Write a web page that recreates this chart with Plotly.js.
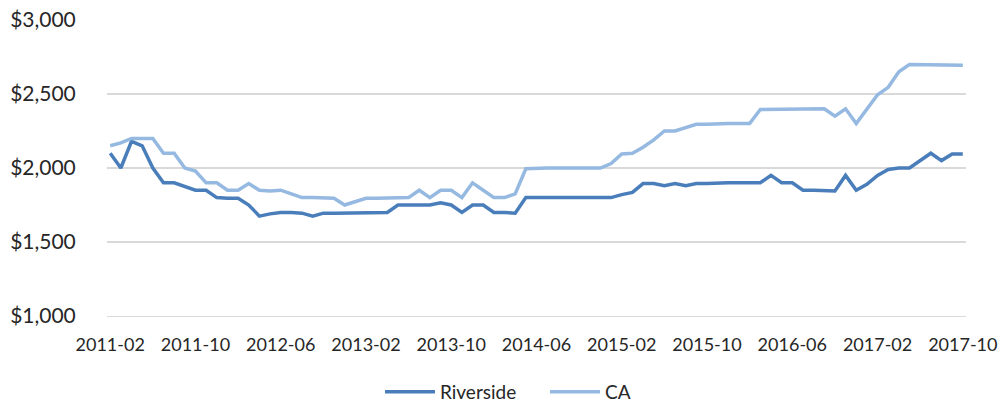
<!DOCTYPE html>
<html>
<head>
<meta charset="utf-8">
<script src="https://cdn.plot.ly/plotly-3.0.1.min.js"></script>
<style>
html,body{margin:0;padding:0;background:#fff;}
#chart{width:1000px;height:407px;}
</style>
</head>
<body>
<div id="chart"></div>
<script>
const months = [
 "2011-02","2011-03","2011-04","2011-05","2011-06","2011-07","2011-08","2011-09","2011-10","2011-11","2011-12",
 "2012-01","2012-02","2012-03","2012-04","2012-05","2012-06","2012-07","2012-08","2012-09","2012-10","2012-11","2012-12",
 "2013-01","2013-02","2013-03","2013-04","2013-05","2013-06","2013-07","2013-08","2013-09","2013-10","2013-11","2013-12",
 "2014-01","2014-02","2014-03","2014-04","2014-05","2014-06","2014-07","2014-08","2014-09","2014-10","2014-11","2014-12",
 "2015-01","2015-02","2015-03","2015-04","2015-05","2015-06","2015-07","2015-08","2015-09","2015-10","2015-11","2015-12",
 "2016-01","2016-02","2016-03","2016-04","2016-05","2016-06","2016-07","2016-08","2016-09","2016-10","2016-11","2016-12",
 "2017-01","2017-02","2017-03","2017-04","2017-05","2017-06","2017-07","2017-08","2017-09","2017-10"
];

const riverside = [
 2100,2000,2180,2150,2000,1900,1900,1875,1850,1850,1800,
 1795,1795,1750,1675,1690,1700,1700,1695,1675,1695,1695,1695,
 1695,1700,1700,1700,1750,1750,1750,1750,1765,1750,1700,1750,
 1750,1700,1700,1695,1800,1800,1795,1800,1800,1795,1795,1800,
 1800,1820,1835,1895,1895,1880,1895,1880,1895,1895,1900,1900,
 1900,1900,1900,1950,1900,1900,1850,1850,1850,1845,1950,1850,
 1890,1950,1990,2000,2000,2050,2100,2050,2095,2095
];

const ca = [
 2150,2170,2200,2200,2200,2100,2100,2000,1980,1900,1900,
 1850,1850,1895,1850,1845,1850,1825,1800,1800,1800,1795,1750,
 1770,1795,1795,1795,1800,1800,1850,1800,1850,1850,1800,1900,
 1850,1800,1800,1825,1995,2000,2000,2000,2000,2000,2000,2000,
 2030,2095,2100,2140,2190,2250,2250,2275,2295,2295,2300,2300,
 2300,2300,2395,2395,2395,2400,2400,2400,2400,2350,2400,2300,
 2400,2495,2545,2650,2700,2700,2700,2700,2700,2695
];

const xTicks = ["2011-02","2011-10","2012-06","2013-02","2013-10","2014-06","2015-02","2015-10","2016-06","2017-02","2017-10"];
const yTicks = [1000,1500,2000,2500,3000];
const yTickText = ["$1,000","$1,500","$2,000","$2,500","$3,000"];

const traces = [
 {x: months, y: riverside, name: "Riverside", type: "scatter", mode: "lines",
  line: {color: "#4a7ebb", width: 3.5}},
 {x: months, y: ca, name: "CA", type: "scatter", mode: "lines",
  line: {color: "#95b9e1", width: 3.5}}
];

const layout = {
 width: 1000, height: 407,
 margin: {l: 107, r: 34, t: 20, b: 91},
 paper_bgcolor: "#fff", plot_bgcolor: "#fff",
 font: {family: "Lato, 'Open Sans', sans-serif", color: "#262626"},
 showlegend: true,
 legend: {orientation: "h", xref: "container", yref: "container", x: 0.545, xanchor: "center",
  y: 0.037, yanchor: "middle", font: {size: 19, color: "#262626"}, itemwidth: 50,
  entrywidth: 100, bgcolor: "rgba(0,0,0,0)"},
 xaxis: {type: "category", categoryorder: "array", categoryarray: months,
  range: [-0.3, 80.3], tickmode: "array", tickvals: xTicks, ticktext: xTicks,
  showgrid: false, zeroline: false, showline: true, linecolor: "#d9d9d9", linewidth: 1.3,
  ticks: "outside", ticklen: 12, tickcolor: "rgba(0,0,0,0)",
  tickfont: {size: 18, color: "#262626"}, fixedrange: true},
 yaxis: {range: [1000, 3000], tickmode: "array", tickvals: yTicks, ticktext: yTickText,
  showgrid: true, gridcolor: "#d9d9d9", gridwidth: 1.3, zeroline: false, showline: false,
  ticks: "outside", ticklen: 26, tickcolor: "rgba(0,0,0,0)",
  tickfont: {size: 21, color: "#262626"}, fixedrange: true}
};

Plotly.newPlot("chart", traces, layout, {displayModeBar: false, staticPlot: true});
</script>
</body>
</html>
